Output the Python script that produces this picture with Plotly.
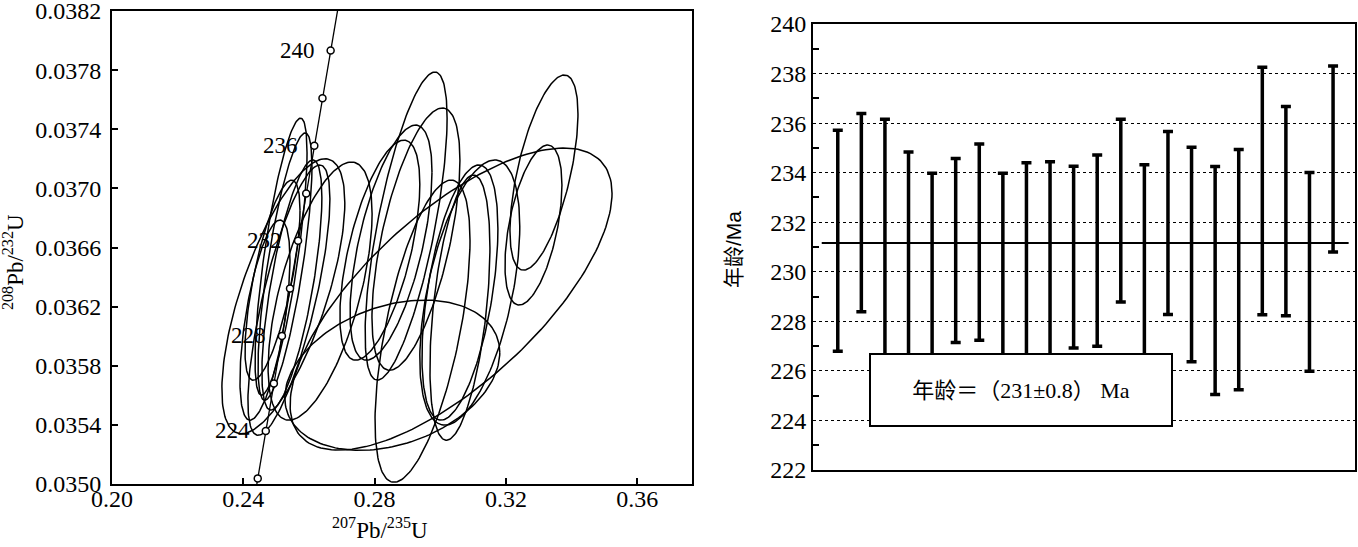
import numpy as np
import plotly.graph_objects as go

# ---------------- Left panel data (concordia diagram) ----------------
conc_age = [220, 222, 224, 226, 228, 230, 232, 234, 236, 238, 240, 242]
conc_x = [0.24195, 0.24440, 0.24685, 0.24931, 0.25177, 0.25423, 0.25669, 0.25917, 0.26164, 0.26412, 0.26661, 0.26911]
conc_y = [0.034717, 0.035038, 0.035359, 0.035680, 0.036002, 0.036323, 0.036645, 0.036966, 0.037288, 0.037610, 0.037932, 0.038254]
conc_label_ages = [224, 228, 232, 236, 240]

# error ellipses: centre (x, y), half-extent (sx, sy), correlation rho
ell_x = [0.2515, 0.2527, 0.2548, 0.2539, 0.2489, 0.2466, 0.2522, 0.2634, 0.2896, 0.2850,
         0.2926, 0.3060, 0.3060, 0.2946, 0.3033, 0.2854, 0.3316, 0.3284, 0.3090, 0.2816]
ell_sx = [0.00792, 0.00822, 0.00914, 0.01249, 0.00838, 0.00762, 0.01873, 0.01584, 0.01249, 0.01249,
          0.0134, 0.01157, 0.00914, 0.01447, 0.04904, 0.03274, 0.01036, 0.00868, 0.01523, 0.01218]
ell_y = [0.036538, 0.036471, 0.036346, 0.036244, 0.036379, 0.036109, 0.036270, 0.036305, 0.036745, 0.036633,
         0.036657, 0.036295, 0.036193, 0.036034, 0.036251, 0.035736, 0.037107, 0.036752, 0.036295, 0.036582]
ell_sy = [0.000937, 0.000904, 0.000846, 0.000914, 0.000677, 0.000677, 0.000930, 0.000873, 0.001042, 0.000795,
          0.000887, 0.000863, 0.000897, 0.001022, 0.001022, 0.000508, 0.00066, 0.000541, 0.000897, 0.000744]
ell_rho = [0.75, 0.75, 0.7, 0.75, 0.7, 0.6, 0.68, 0.6, 0.7, 0.6,
           0.6, 0.5, 0.45, 0.6, 0.7, 0.3, 0.6, 0.5, 0.5, 0.6]

# ---------------- Right panel data (weighted mean ages) ----------------
spot = list(range(1, 23))
ages = [231.25, 232.39, 231.2, 230.7, 230.0, 230.86, 231.2, 230.0, 230.4, 230.42, 230.59,
        230.85, 232.47, 230.3, 231.97, 230.7, 229.65, 230.09, 233.26, 232.45, 230.0, 234.55]
errs = [4.46, 4.0, 4.96, 4.13, 3.98, 3.71, 3.96, 3.98, 4.0, 4.02, 3.67,
        3.86, 3.69, 4.02, 3.69, 4.33, 4.6, 4.85, 4.99, 4.22, 4.01, 3.75]
mean_age = 231.16
mean_span = [0.32, 22.66]
mean_text = "年龄＝（231±0.8） Ma"

SERIF = "Liberation Serif, Times New Roman, serif"
W, H = 1358, 547

fig = go.Figure()

# ellipses
t = np.linspace(0, 2 * np.pi, 181)
for cx, sx, cy, sy, r in zip(ell_x, ell_sx, ell_y, ell_sy, ell_rho):
    ex = cx + sx * np.cos(t)
    ey = cy + sy * (r * np.cos(t) + np.sqrt(1 - r * r) * np.sin(t))
    fig.add_trace(go.Scatter(x=ex, y=ey, mode="lines", line=dict(color="black", width=1.5),
                             hoverinfo="skip", xaxis="x", yaxis="y"))

# concordia line
fig.add_trace(go.Scatter(x=conc_x, y=conc_y, mode="lines", line=dict(color="black", width=1.3),
                         xaxis="x", yaxis="y", hoverinfo="skip"))
mk_x = [x for a, x in zip(conc_age, conc_x) if 222 <= a <= 240]
mk_y = [y for a, y in zip(conc_age, conc_y) if 222 <= a <= 240]
fig.add_trace(go.Scatter(x=mk_x, y=mk_y, mode="markers",
                         marker=dict(symbol="circle", size=7, color="white",
                                     line=dict(color="black", width=1.5)),
                         cliponaxis=False, xaxis="x", yaxis="y"))

for a, x, y in zip(conc_age, conc_x, conc_y):
    if a in conc_label_ages:
        fig.add_annotation(x=x, y=y, xref="x", yref="y", text=str(a), showarrow=False,
                           xanchor="right", yanchor="middle", xshift=-14,
                           font=dict(family=SERIF, size=23, color="black"))

# right panel error bars
fig.add_trace(go.Scatter(x=mean_span, y=[mean_age, mean_age], mode="lines",
                         line=dict(color="black", width=2), xaxis="x2", yaxis="y2"))
fig.add_trace(go.Scatter(x=spot, y=ages, mode="markers",
                         marker=dict(size=1, color="rgba(0,0,0,0)"),
                         error_y=dict(type="data", array=errs, visible=True, color="black",
                                      thickness=3.5, width=5),
                         xaxis="x2", yaxis="y2"))

# result box
fig.add_annotation(x=8.75, y=225.24, xref="x2", yref="y2", text=mean_text,
                   showarrow=False, width=300, height=70, borderpad=0, bgcolor="white",
                   bordercolor="black", borderwidth=2, xshift=0,
                   font=dict(family="Liberation Serif, Noto Sans CJK SC", size=22, color="black"))

# axis titles as annotations
fig.add_annotation(x=380 / W, y=(H - 528) / H, xref="paper", yref="paper", showarrow=False,
                   text="<sup>207</sup>Pb/<sup>235</sup>U", xanchor="center", yanchor="middle",
                   font=dict(family=SERIF, size=23, color="black"))
fig.add_annotation(x=13 / W, y=(H - 262) / H, xref="paper", yref="paper", showarrow=False,
                   text="<sup>208</sup>Pb/<sup>232</sup>U", textangle=-90,
                   xanchor="center", yanchor="middle",
                   font=dict(family=SERIF, size=23, color="black"))
fig.add_annotation(x=733 / W, y=(H - 250) / H, xref="paper", yref="paper", showarrow=False,
                   text="年龄/Ma", textangle=-90, xanchor="center", yanchor="middle",
                   font=dict(family="Liberation Sans, Noto Sans CJK SC", size=21, color="black"))

axis_common = dict(showline=True, linecolor="black", linewidth=2, mirror=True, automargin=False,
                   zeroline=False, tickcolor="black", ticklabeloverflow="allow",
                   tickfont=dict(family=SERIF, size=24, color="black"))

fig.update_layout(
    width=W, height=H, margin=dict(l=0, r=0, t=0, b=0, autoexpand=False),
    paper_bgcolor="white", plot_bgcolor="white", showlegend=False,
    xaxis=dict(domain=[112 / W, 692 / W], range=[0.20, 0.3767],
               tickvals=[0.20, 0.24, 0.28, 0.32, 0.36], tickformat=".2f",
               ticks="inside", ticklen=6, tickwidth=2, showgrid=False, anchor="y",
               ticklabelstandoff=-8, **axis_common),
    yaxis=dict(domain=[(H - 484) / H, (H - 11) / H], range=[0.0350, 0.0382], dtick=0.0004, tick0=0.0350,
               tickformat=".4f", ticks="inside", ticklen=6, tickwidth=2, showgrid=False, anchor="x",
               ticklabelstandoff=4, **axis_common),
    xaxis2=dict(domain=[813 / W, 1355 / W], range=[-0.05, 22.93], showticklabels=False,
                ticks="", showgrid=False, anchor="y2", **axis_common),
    yaxis2=dict(domain=[(H - 470) / H, (H - 24) / H], range=[222, 240], dtick=2, tick0=222, ticks="",
                showgrid=True, gridcolor="black", gridwidth=1, griddash="dot",
                minor=dict(dtick=1, tick0=222, ticks="inside", ticklen=6, tickwidth=2,
                           tickcolor="black", showgrid=False),
                anchor="x2", **axis_common),
)

fig.write_html("out.html", config={"displayModeBar": False},
               post_script="document.body.style.margin='0';document.body.style.overflow='hidden';")
